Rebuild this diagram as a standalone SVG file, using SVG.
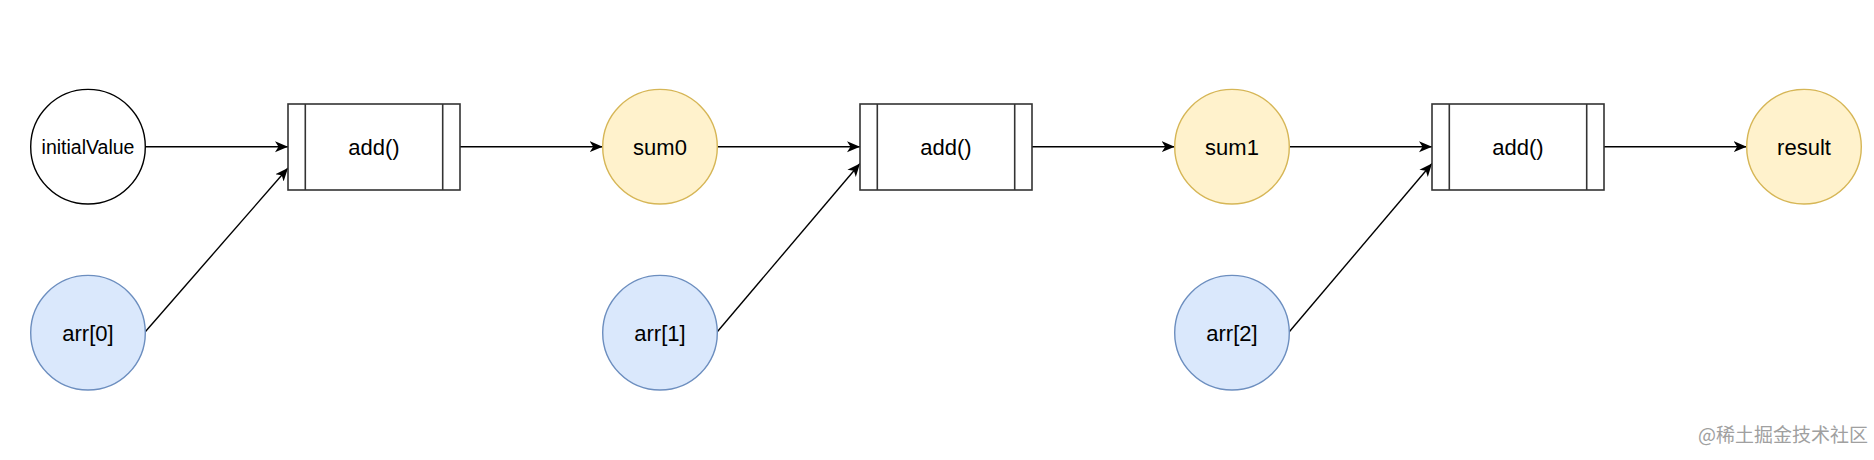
<svg xmlns="http://www.w3.org/2000/svg" width="1874" height="460" viewBox="0 0 1874 460">
  <style>
    .lbl { font-family: "Liberation Sans", Arial, Helvetica, sans-serif; font-size: 22px; fill: #000; text-anchor: middle; dominant-baseline: central; }
    .small { font-size: 19.5px; }
    .plain { fill: #ffffff; stroke: #000000; stroke-width: 1.4; }
    .sum { fill: #fff2cc; stroke: #d6b656; stroke-width: 1.4; }
    .arr { fill: #dae8fc; stroke: #6c8ebf; stroke-width: 1.4; }
    .proc { fill: #ffffff; stroke: #333333; stroke-width: 1.6; }
    .edge { fill: none; stroke: #000000; stroke-width: 1.4; marker-end: url(#ah); }
    .wm { font-family: "Noto Sans CJK SC", "Liberation Sans", sans-serif; font-size: 19px; fill: #a0a0a0; }
  </style>
  <defs>
    <marker id="ah" markerUnits="userSpaceOnUse" markerWidth="14" markerHeight="14" viewBox="0 0 14 14" refX="13" refY="7" orient="auto">
      <path d="M0,1.5 L13,7 L0,12.5 L3.5,7 Z" fill="#000000"/>
    </marker>
  </defs>
  <rect width="1874" height="460" fill="#ffffff"/>

  <g id="connectors">
    <line class="edge" x1="145.3" y1="146.7" x2="288" y2="146.7"/>
    <line class="edge" x1="145.3" y1="331.7" x2="288" y2="168"/>
    <line class="edge" x1="460" y1="146.7" x2="602.7" y2="146.7"/>
    <line class="edge" x1="717.3" y1="146.7" x2="860" y2="146.7"/>
    <line class="edge" x1="717.3" y1="331.7" x2="860" y2="163.5"/>
    <line class="edge" x1="1032" y1="146.7" x2="1174.7" y2="146.7"/>
    <line class="edge" x1="1289.3" y1="146.7" x2="1432" y2="146.7"/>
    <line class="edge" x1="1289.3" y1="331.7" x2="1432" y2="163.5"/>
    <line class="edge" x1="1604" y1="146.7" x2="1746.7" y2="146.7"/>
  </g>

  <g id="initialValue">
    <circle class="plain" cx="88" cy="146.7" r="57.3"/>
    <text class="lbl small" x="88" y="147">initialValue</text>
  </g>
  <g id="arr0">
    <circle class="arr" cx="88" cy="332.7" r="57.3"/>
    <text class="lbl" x="88" y="333">arr[0]</text>
  </g>
  <g id="add0">
    <rect class="proc" x="288" y="104" width="172" height="86"/>
    <line class="proc" x1="305.3" y1="104" x2="305.3" y2="190"/>
    <line class="proc" x1="442.7" y1="104" x2="442.7" y2="190"/>
    <text class="lbl" x="374" y="147">add()</text>
  </g>
  <g id="sum0">
    <circle class="sum" cx="660" cy="146.7" r="57.3"/>
    <text class="lbl" x="660" y="147">sum0</text>
  </g>
  <g id="arr1">
    <circle class="arr" cx="660" cy="332.7" r="57.3"/>
    <text class="lbl" x="660" y="333">arr[1]</text>
  </g>
  <g id="add1">
    <rect class="proc" x="860" y="104" width="172" height="86"/>
    <line class="proc" x1="877.3" y1="104" x2="877.3" y2="190"/>
    <line class="proc" x1="1014.7" y1="104" x2="1014.7" y2="190"/>
    <text class="lbl" x="946" y="147">add()</text>
  </g>
  <g id="sum1">
    <circle class="sum" cx="1232" cy="146.7" r="57.3"/>
    <text class="lbl" x="1232" y="147">sum1</text>
  </g>
  <g id="arr2">
    <circle class="arr" cx="1232" cy="332.7" r="57.3"/>
    <text class="lbl" x="1232" y="333">arr[2]</text>
  </g>
  <g id="add2">
    <rect class="proc" x="1432" y="104" width="172" height="86"/>
    <line class="proc" x1="1449.3" y1="104" x2="1449.3" y2="190"/>
    <line class="proc" x1="1586.7" y1="104" x2="1586.7" y2="190"/>
    <text class="lbl" x="1518" y="147">add()</text>
  </g>
  <g id="result">
    <circle class="sum" cx="1804" cy="146.7" r="57.3"/>
    <text class="lbl" x="1804" y="147">result</text>
  </g>

  <text class="wm" x="1698" y="442">@稀土掘金技术社区</text>
</svg>
